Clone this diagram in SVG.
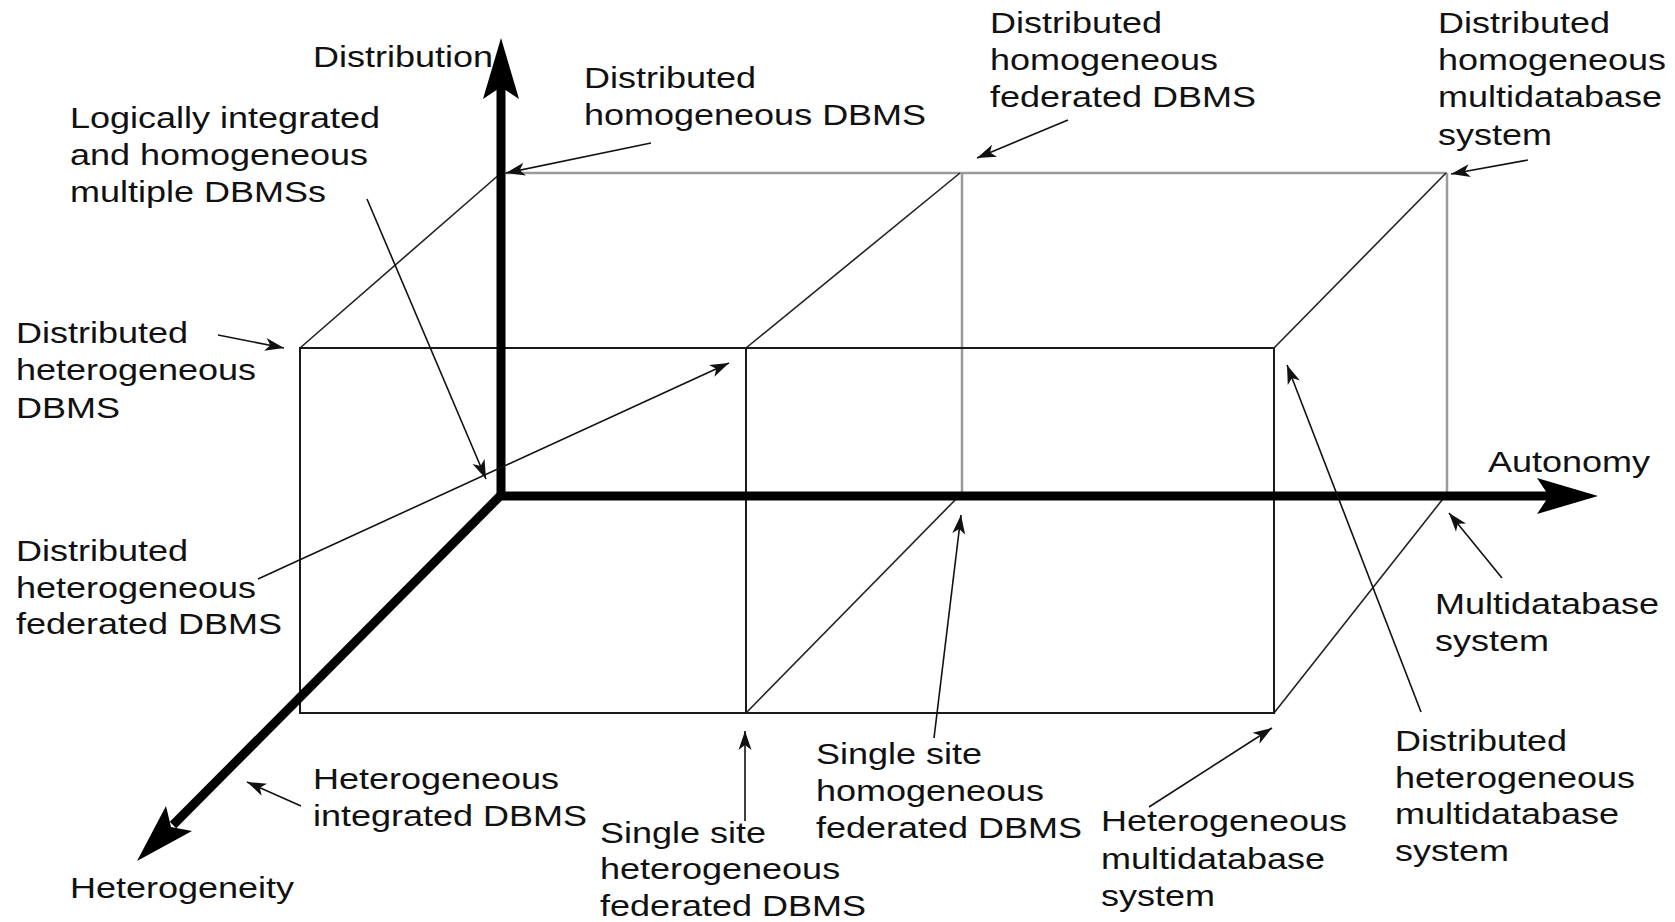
<svg xmlns="http://www.w3.org/2000/svg" width="1675" height="922" viewBox="0 0 1675 922">
<style>
.front{stroke:#1a1a1a;stroke-width:2;fill:none}
.back{stroke:#9a9a9a;stroke-width:2.5;fill:none}
.diag{stroke:#222;stroke-width:1.6;fill:none}
.axis{stroke:#000;stroke-width:9;fill:none}
.ahead{fill:#000}
.ann{stroke:#111;stroke-width:1.6;fill:none;marker-end:url(#tip)}
text{font-family:"Liberation Sans",Arial,sans-serif;font-size:30px;fill:#111}
</style>
<defs>
<marker id="tip" markerUnits="userSpaceOnUse" orient="auto" overflow="visible" markerWidth="20" markerHeight="14">
<path d="M0,0 L-19,-6.5 L-14,0 L-19,6.5 Z" fill="#111"/>
</marker>
</defs>
<rect width="1675" height="922" fill="#fff"/>
<g id="cube">
<line class="back" x1="501" y1="173" x2="1447" y2="173"/>
<line class="back" x1="962" y1="173" x2="962" y2="495"/>
<line class="back" x1="1447" y1="173" x2="1447" y2="495"/>
<line class="diag" x1="300" y1="348" x2="501" y2="173"/>
<line class="diag" x1="746" y1="348" x2="960" y2="173"/>
<line class="diag" x1="1274" y1="348" x2="1446" y2="173"/>
<line class="diag" x1="746" y1="713" x2="960" y2="495"/>
<line class="diag" x1="1274" y1="713" x2="1446" y2="495"/>
<rect class="front" x="300" y="348" width="974" height="365"/>
<line class="front" x1="746" y1="348" x2="746" y2="713"/>
</g>
<g id="axes">
<line class="axis" x1="501" y1="499" x2="501" y2="86"/>
<polygon class="ahead" points="501,38 519,99 501,87 483,99"/>
<line class="axis" x1="497" y1="496" x2="1550" y2="496"/>
<polygon class="ahead" points="1598,496 1537,514 1549,496 1537,478"/>
<line class="axis" x1="503" y1="493" x2="173" y2="825"/>
<polygon class="ahead" points="137,861 166,806 171,827 192,831"/>
</g>
<g id="connectors">
<line class="ann" x1="651" y1="143" x2="506" y2="173"/>
<line class="ann" x1="1068" y1="120" x2="977" y2="158"/>
<line class="ann" x1="1528" y1="160" x2="1451" y2="174"/>
<line class="ann" x1="367" y1="199" x2="486" y2="479"/>
<line class="ann" x1="218" y1="335" x2="284" y2="348"/>
<line class="ann" x1="258" y1="579" x2="729" y2="363"/>
<line class="ann" x1="301" y1="806" x2="247" y2="782"/>
<line class="ann" x1="745" y1="821" x2="745" y2="731"/>
<line class="ann" x1="934" y1="738" x2="961" y2="515"/>
<line class="ann" x1="1149" y1="807" x2="1272" y2="728"/>
<line class="ann" x1="1421" y1="712" x2="1287" y2="365"/>
<line class="ann" x1="1502" y1="578" x2="1449" y2="513"/>
</g>
<g id="label-distribution" transform="scale(1.2 1)"><text x="260.8" y="67">Distribution</text></g>
<g id="label-dist-homo-dbms" transform="scale(1.2 1)"><text x="486.7" y="88">Distributed<tspan x="486.7" y="125">homogeneous DBMS</tspan></text></g>
<g id="label-logically" transform="scale(1.2 1)"><text x="58.3" y="128">Logically integrated<tspan x="58.3" y="165">and homogeneous</tspan><tspan x="58.3" y="202">multiple DBMSs</tspan></text></g>
<g id="label-dist-homo-fed" transform="scale(1.2 1)"><text x="825" y="33">Distributed<tspan x="825" y="70">homogeneous</tspan><tspan x="825" y="107">federated DBMS</tspan></text></g>
<g id="label-dist-homo-multi" transform="scale(1.2 1)"><text x="1198.3" y="33">Distributed<tspan x="1198.3" y="70">homogeneous</tspan><tspan x="1198.3" y="107">multidatabase</tspan><tspan x="1198.3" y="145">system</tspan></text></g>
<g id="label-dist-het-dbms" transform="scale(1.2 1)"><text x="13.3" y="343">Distributed<tspan x="13.3" y="380">heterogeneous</tspan><tspan x="13.3" y="418">DBMS</tspan></text></g>
<g id="label-autonomy" transform="scale(1.2 1)"><text x="1240" y="472">Autonomy</text></g>
<g id="label-dist-het-fed" transform="scale(1.2 1)"><text x="13.3" y="561">Distributed<tspan x="13.3" y="598">heterogeneous</tspan><tspan x="13.3" y="634">federated DBMS</tspan></text></g>
<g id="label-multidatabase" transform="scale(1.2 1)"><text x="1195.8" y="614">Multidatabase<tspan x="1195.8" y="651">system</tspan></text></g>
<g id="label-dist-het-multi" transform="scale(1.2 1)"><text x="1162.5" y="751">Distributed<tspan x="1162.5" y="788">heterogeneous</tspan><tspan x="1162.5" y="824">multidatabase</tspan><tspan x="1162.5" y="861">system</tspan></text></g>
<g id="label-single-homo-fed" transform="scale(1.2 1)"><text x="680" y="764">Single site<tspan x="680" y="801">homogeneous</tspan><tspan x="680" y="838">federated DBMS</tspan></text></g>
<g id="label-het-integrated" transform="scale(1.2 1)"><text x="260.8" y="789">Heterogeneous<tspan x="260.8" y="826">integrated DBMS</tspan></text></g>
<g id="label-single-het-fed" transform="scale(1.2 1)"><text x="500" y="843">Single site<tspan x="500" y="879">heterogeneous</tspan><tspan x="500" y="916">federated DBMS</tspan></text></g>
<g id="label-het-multi" transform="scale(1.2 1)"><text x="917.5" y="831">Heterogeneous<tspan x="917.5" y="869">multidatabase</tspan><tspan x="917.5" y="906">system</tspan></text></g>
<g id="label-heterogeneity" transform="scale(1.2 1)"><text x="58.3" y="898">Heterogeneity</text></g>
</svg>
